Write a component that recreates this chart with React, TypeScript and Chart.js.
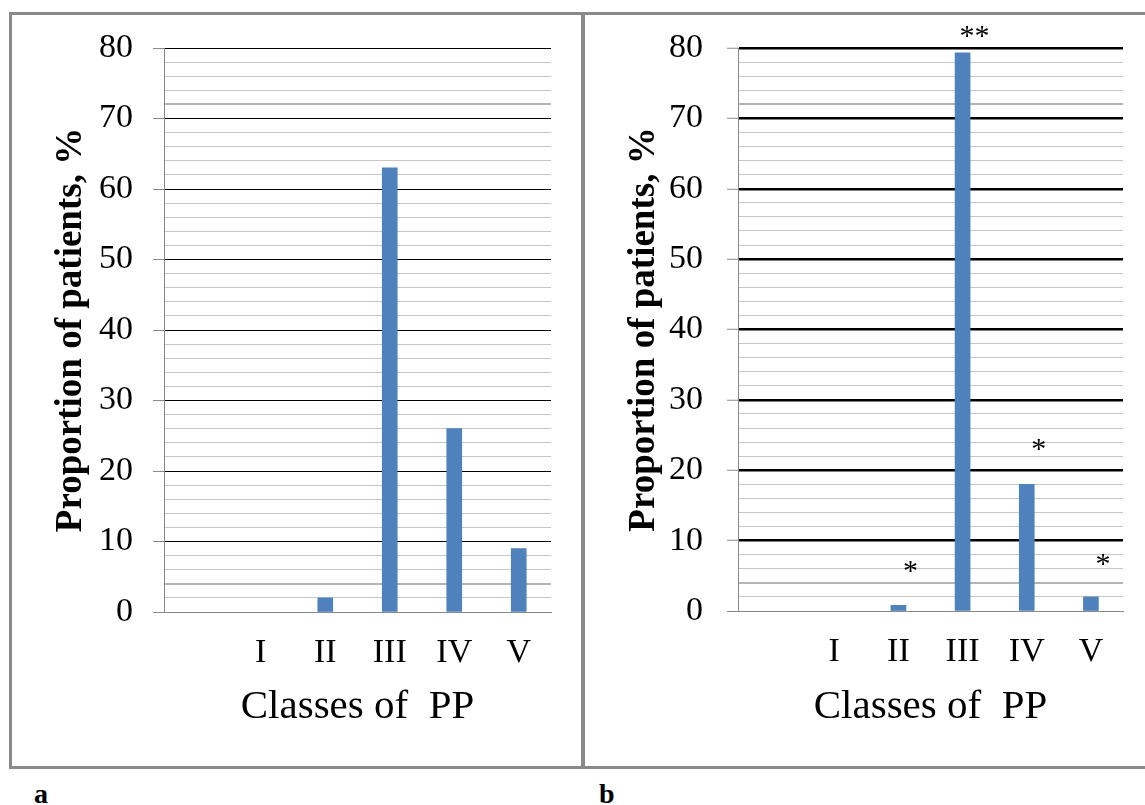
import React, { useEffect, useRef } from 'react';
import { Chart, registerables } from 'chart.js';

Chart.register(...registerables);

// ---- data ----
const categories = ['', 'I', 'II', 'III', 'IV', 'V'];
const valuesA: (number | null)[] = [null, 0, 2, 63, 26, 9];
const valuesB: (number | null)[] = [null, 0, 0.8, 79.3, 18, 2];
const starsB = ['', '', '*', '**', '*', '*'];
const starLevelsB: (number | null)[] = [null, null, 6.2, 82.2, 23.6, 7.2];
const yMin = 0;
const yMax = 80;
const yMinorStep = 2;
const yMajorStep = 10;
const yAxisTitle = 'Proportion of patients, %';
const xAxisTitle = 'Classes of  PP';
const panelLetters = ['a', 'b'];

const SERIF = "'Liberation Serif', 'Times New Roman', serif";
const BAR = '#4f81bd';
const FRAME = '#898989';

type PanelOpts = {
  values: (number | null)[];
  majorWidth: number;
  padRight: number;
  padTop: number;
  yWidth: number;
  xHeight: number;
  tickPad: number;
  stars?: string[];
  starLevels?: (number | null)[];
};

function makeConfig(o: PanelOpts): any {
  const isMajor = (v: number) => Math.abs(v % yMajorStep) < 1e-9;
  const starPlugin = {
    id: 'stars',
    afterDatasetsDraw(chart: any) {
      if (!o.stars || !o.starLevels) return;
      const { ctx } = chart;
      const xs = chart.scales.x;
      const ys = chart.scales.y;
      ctx.save();
      ctx.fillStyle = '#000';
      ctx.font = `30px ${SERIF}`;
      ctx.textAlign = 'center';
      ctx.textBaseline = 'middle';
      o.stars.forEach((s, i) => {
        const lv = o.starLevels![i];
        if (!s || lv == null) return;
        ctx.fillText(s, xs.getPixelForValue(i) + 12, ys.getPixelForValue(lv) + 5);
      });
      ctx.restore();
    },
  };
  return {
    type: 'bar',
    data: {
      labels: categories,
      datasets: [
        {
          data: o.values,
          backgroundColor: (c: any) => (c.raw ? BAR : 'rgba(0,0,0,0)'),
          borderWidth: 0,
          barThickness: 15,
        },
      ],
    },
    plugins: [starPlugin],
    options: {
      animation: false,
      responsive: false,
      maintainAspectRatio: false,
      layout: { padding: { left: 0, top: o.padTop, right: o.padRight, bottom: 0 } },
      plugins: { legend: { display: false }, tooltip: { enabled: false } },
      scales: {
        x: {
          type: 'category',
          offset: true,
          grid: { display: false, drawTicks: false },
          border: { display: true, color: FRAME, width: 1 },
          ticks: {
            color: '#000',
            font: { family: SERIF, size: 34 },
            padding: 21,
            autoSkip: false,
            maxRotation: 0,
          },
          title: {
            display: true,
            text: xAxisTitle,
            color: '#000',
            font: { family: SERIF, size: 41 },
            padding: { top: 0, bottom: 34 },
          },
          afterFit: (s: any) => {
            s.height = o.xHeight;
          },
        },
        y: {
          type: 'linear',
          min: yMin,
          max: yMax,
          grid: {
            drawTicks: true,
            tickLength: 11,
            tickWidth: 1,
            tickColor: (c: any) => (c.tick && isMajor(c.tick.value) ? FRAME : 'rgba(0,0,0,0)'),
            color: (c: any) => {
              const v = c.tick ? c.tick.value : 1;
              if (v === 0) return FRAME;
              if (isMajor(v)) return '#000';
              if (v === 4 || v === 72) return '#b4b4b4';
              return '#c6c6c6';
            },
            lineWidth: (c: any) => {
              const v = c.tick ? c.tick.value : 1;
              if (v === 0) return 1;
              if (isMajor(v)) return o.majorWidth;
              if (v === 4 || v === 72) return 2;
              return 1;
            },
          },
          border: { display: true, color: FRAME, width: 1 },
          ticks: {
            stepSize: yMinorStep,
            autoSkip: false,
            color: '#000',
            font: { family: SERIF, size: 34 },
            padding: o.tickPad,
            callback: (v: any) => (isMajor(Number(v)) ? String(v) : ''),
          },
          title: {
            display: true,
            text: yAxisTitle,
            color: '#000',
            font: { family: SERIF, size: 37, weight: 'bold' },
            padding: { top: 37, bottom: 0 },
          },
          afterFit: (s: any) => {
            s.width = o.yWidth;
            s.paddingTop = 0;
            s.paddingBottom = 0;
          },
        },
      },
    },
  };
}

function Panel(props: { opts: PanelOpts; left: number; width: number }) {
  const ref = useRef<HTMLCanvasElement>(null);
  useEffect(() => {
    if (!ref.current) return;
    const chart = new Chart(ref.current, makeConfig(props.opts));
    return () => chart.destroy();
  }, []);
  return (
    <canvas
      ref={ref}
      width={props.width}
      height={751}
      style={{ position: 'absolute', left: props.left, top: 15, width: props.width, height: 751 }}
    />
  );
}

export default function App() {
  return (
    <div
      style={{
        position: 'fixed',
        left: 0,
        top: 0,
        width: 1145,
        height: 805,
        overflow: 'hidden',
        background: '#fff',
      }}
    >
      <div
        style={{
          position: 'absolute',
          left: 9,
          top: 12,
          width: 1145,
          height: 757,
          boxSizing: 'border-box',
          border: `3px solid ${FRAME}`,
        }}
      />
      <div style={{ position: 'absolute', left: 581, top: 12, width: 4, height: 757, background: FRAME }} />
      <Panel
        left={12}
        width={569}
        opts={{ values: valuesA, majorWidth: 1, padRight: 30, padTop: 33, yWidth: 152, xHeight: 154, tickPad: 20 }}
      />
      <Panel
        left={585}
        width={557}
        opts={{
          values: valuesB,
          majorWidth: 2.5,
          padRight: 19,
          padTop: 33,
          yWidth: 153,
          xHeight: 155,
          tickPad: 24,
          stars: starsB,
          starLevels: starLevelsB,
        }}
      />
      {panelLetters.map((t, i) => (
        <div
          key={t}
          style={{
            position: 'absolute',
            left: i === 0 ? 34 : 599,
            top: 780,
            fontFamily: SERIF,
            fontWeight: 'bold',
            fontSize: 28,
            lineHeight: '28px',
            color: '#000',
          }}
        >
          {t}
        </div>
      ))}
    </div>
  );
}
